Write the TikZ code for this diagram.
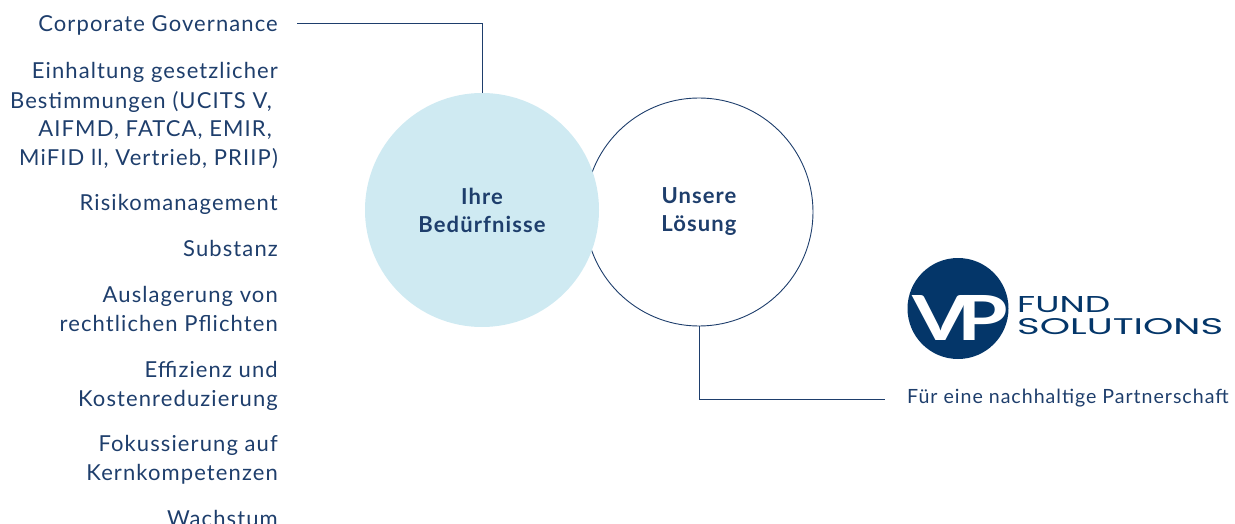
\documentclass[tikz,border=0pt]{standalone}
\usepackage{fontspec}
\setmainfont{Lato}[LetterSpace=5]
\newfontfamily\logofont{Poppins}
\usetikzlibrary{positioning}
\definecolor{navy}{RGB}{30,62,108}
\definecolor{logoblue}{RGB}{4,54,105}
\definecolor{paleblue}{RGB}{207,234,242}

\begin{document}
\begin{tikzpicture}[x=1pt,y=-1pt,
    item/.style={anchor=base east, align=right, inner sep=0pt, text=navy,
        font=\fontsize{22}{29}\selectfont},
    bubble/.style={circle, inner sep=0pt, align=center, text=navy,
        font=\fontsize{22}{28}\selectfont\bfseries},
    link/.style={draw=navy, line width=0.9pt}]
  \useasboundingbox (0,0) rectangle (1235,524);
  % what the client needs
  \node[item] (gov) at (278,32) {Corporate Governance};
  \node[item] (law) at (278,166) {Einhaltung gesetzlicher\\Bestimmungen (UCITS V,\kern6pt\\AIFMD, FATCA, EMIR,\kern6pt\\MiFID ll, Vertrieb, PRIIP)};
  \node[item] (risk) at (278,211) {Risikomanagement};
  \node[item] (subst) at (278,256) {Substanz};
  \node[item] (out) at (278,331) {Auslagerung von\\rechtlichen Pflichten};
  \node[item] (cost) at (278,406) {Effizienz und\\Kostenreduzierung};
  \node[item] (core) at (278,480) {Fokussierung auf\\Kernkompetenzen};
  \node[item] (grow) at (278,526) {Wachstum};
  % the two circles
  \node[bubble, draw=navy, line width=0.9pt, minimum size=228pt] (sol) at (699,212) {Unsere\\Lösung};
  \node[bubble, fill=paleblue, minimum size=234pt] (need) at (482,210) {Ihre\\Bedürfnisse};
  % logo
  \node[circle, fill=logoblue, minimum size=101pt, inner sep=0pt] (logo) at (958,308.5) {};
  \node[inner sep=0pt, text=white, font=\bfseries] (vp) at (960,317.5) {\resizebox{95pt}{45pt}{V\kern-0.15em P}};
  \node[anchor=south west, inner sep=0pt, text=logoblue] (fund) at (1017,313) {\resizebox{93pt}{16pt}{\logofont FUND}};
  \node[anchor=south west, inner sep=0pt, text=logoblue] (sols) at (1017,335) {\resizebox{206pt}{16pt}{\logofont SOLUTIONS}};
  \node[anchor=base west, inner sep=0pt, text=navy, font=\fontsize{19.6}{24}\selectfont] (tag) at (907,403) {Für eine nachhaltige Partnerschaft};
  % connectors
  \draw[link] ([xshift=19pt,yshift=9pt]gov.base east) -| (need.north);
  \draw[link] (sol.south) |- ([xshift=-22pt,yshift=4pt]tag.base west);
\end{tikzpicture}
\end{document}
